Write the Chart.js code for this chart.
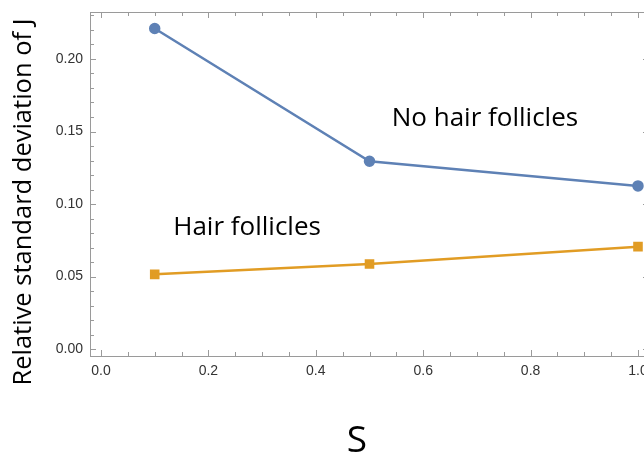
<!DOCTYPE html>
<html>
<head>
<meta charset="utf-8">
<script src="https://cdn.jsdelivr.net/npm/chart.js@4.4.1/dist/chart.umd.min.js"></script>
<style>
html,body{margin:0;padding:0;background:#fff;overflow:hidden}
#wrap{width:644px;height:455px;overflow:hidden;position:relative}
#box{width:660px;height:455px}
</style>
</head>
<body>
<div id="wrap"><div id="box"><canvas id="c"></canvas></div></div>
<script>
const sValues=[0.1,0.5,1.0];
const noHair=[0.221,0.1295,0.1125];
const hair=[0.0515,0.0586,0.0706];
const xTicks=[0,0.2,0.4,0.6,0.8,1.0];
const yTicks=[0,0.05,0.10,0.15,0.20];
const notes=[{text:'No hair follicles',x:0.715,y:0.159},{text:'Hair follicles',x:0.272,y:0.0834}];

const blue='rgb(94,129,181)', orange='rgb(225,156,36)', frame='#9a9a9a';
const pts=ys=>sValues.map((x,i)=>({x,y:ys[i]}));

const framePlugin={id:'frame',afterDraw(ch){
  const {ctx,chartArea:a,scales:{x,y}}=ch;
  ctx.save(); ctx.strokeStyle=frame; ctx.lineWidth=1;
  ctx.strokeRect(Math.round(a.left)+0.5,Math.round(a.top)+0.5,Math.round(a.right-a.left),Math.round(a.bottom-a.top));
  ctx.beginPath();
  for(let i=0;i<=20;i++){const v=i*0.05, px=Math.round(x.getPixelForValue(v))+0.5, L=(i%4===0)?6:4;
    ctx.moveTo(px,a.bottom);ctx.lineTo(px,a.bottom-L);ctx.moveTo(px,a.top);ctx.lineTo(px,a.top+L);}
  for(let i=0;i<=23;i++){const v=i*0.01, py=Math.round(y.getPixelForValue(v))+0.5, L=(i%5===0)?6:4;
    ctx.moveTo(a.left,py);ctx.lineTo(a.left+L,py);ctx.moveTo(a.right,py);ctx.lineTo(a.right-L,py);}
  ctx.stroke();
  ctx.fillStyle='#000'; ctx.textAlign='center'; ctx.textBaseline='middle';
  ctx.font='26px "Open Sans"';
  notes.forEach(n=>ctx.fillText(n.text,x.getPixelForValue(n.x),y.getPixelForValue(n.y)));
  ctx.font='37px "Open Sans"'; ctx.fillText('S',357,441);
  ctx.translate(24,202); ctx.rotate(-Math.PI/2); ctx.font='25.5px "Open Sans"';
  ctx.fillText('Relative standard deviation of J',0,0);
  ctx.restore();
}};

new Chart(document.getElementById('c'),{
  type:'line',
  data:{datasets:[
    {label:'No hair follicles',data:pts(noHair),borderColor:blue,backgroundColor:blue,borderWidth:2.5,pointRadius:4.5,pointHoverRadius:4.5,pointStyle:'circle'},
    {label:'Hair follicles',data:pts(hair),borderColor:orange,backgroundColor:orange,borderWidth:2.5,pointRadius:5,pointHoverRadius:5,pointStyle:'rect'}
  ]},
  options:{
    responsive:true,maintainAspectRatio:false,animation:false,
    layout:{padding:{left:0,right:11,top:12,bottom:0}},
    plugins:{legend:{display:false},tooltip:{enabled:false}},
    scales:{
      x:{type:'linear',min:-0.0205,max:1.0205,
        afterFit(s){s.height=99;s.paddingLeft=0;s.paddingRight=0;},
        afterBuildTicks(s){s.ticks=xTicks.map(v=>({value:v}));},
        grid:{display:false,drawTicks:false},border:{display:false},
        ticks:{padding:7,maxRotation:0,autoSkip:false,color:'#333',font:{family:'"Liberation Sans"',size:14},callback:v=>v.toFixed(1)}},
      y:{type:'linear',min:-0.0048,max:0.2324,
        afterFit(s){s.width=90;s.paddingTop=0;s.paddingBottom=0;},
        afterBuildTicks(s){s.ticks=yTicks.map(v=>({value:v}));},
        grid:{display:false,drawTicks:false},border:{display:false},
        ticks:{padding:7,color:'#333',font:{family:'"Liberation Sans"',size:14},callback:v=>v.toFixed(2)}}
    }
  },
  plugins:[framePlugin]
});
</script>
</body>
</html>
